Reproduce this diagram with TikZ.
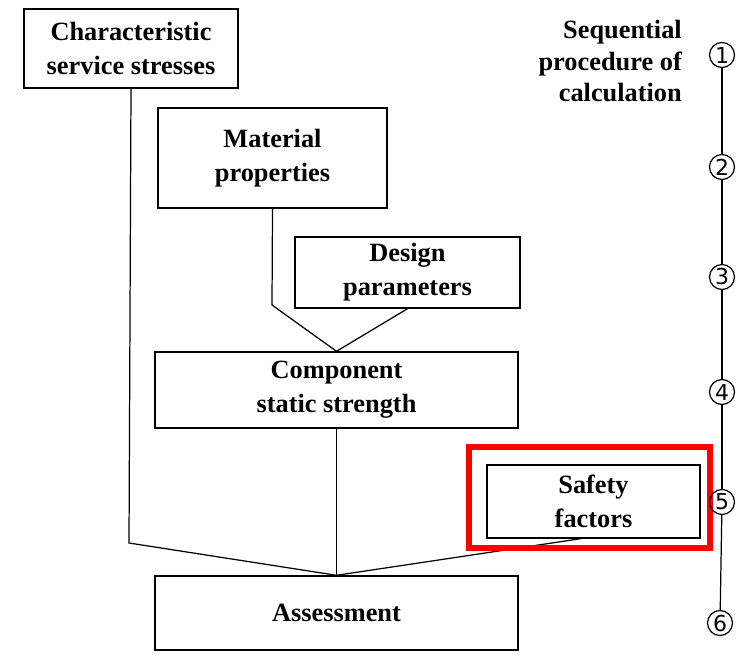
\documentclass[tikz,border=0pt]{standalone}
\usepackage{fontspec}
\setmainfont{Liberation Serif}
\setsansfont{DejaVu Sans}
\usepackage{tikz}
\usetikzlibrary{calc, positioning}

\begin{document}
\begin{tikzpicture}[x=0.02cm, y=-0.02cm,
    box/.style={draw, line width=0.8pt, align=center, inner sep=2pt,
      font=\fontsize{15}{19.5}\selectfont\bfseries},
    link/.style={line width=0.7pt},
    stepno/.style={draw, circle, line width=0.7pt, inner sep=0pt,
      minimum size=0.5cm, font=\sffamily\fontsize{12.5}{12.5}\selectfont}]
  \useasboundingbox (0,0) rectangle (746,655);
  % boxes
  \node[box, minimum width=4.28cm, minimum height=1.58cm] (stress) at (131,48.5)
    {Characteristic\\service stresses};
  \node[box, minimum width=4.58cm, minimum height=2.0cm] (material) at (272.5,158)
    {Material\\properties};
  \node[box, minimum width=4.5cm, minimum height=1.42cm] (design) at (407.5,272.5)
    {Design\\parameters};
  \node[box, minimum width=7.26cm, minimum height=1.52cm] (component) at (336.5,390)
    {Component\\static strength};
  \node[box, minimum width=4.26cm, minimum height=1.46cm] (safety) at (593.5,501.5)
    {Safety\\factors};
  \node[box, minimum width=7.26cm, minimum height=1.48cm] (assess) at (336.5,613)
    {Assessment};
  % bends
  \coordinate (kS) at (129,543);
  \coordinate (kM) at (272,305);
  % connectors
  \draw[link] (stress.south) -- (kS) -- (assess.north);
  \draw[link] (material.south) -- (kM) -- (component.north);
  \draw[link] (design.south) -- (component.north);
  \draw[link] (component.south) -- (assess.north);
  \draw[link] ([xshift=-0.26cm]safety.south) -- (assess.north);
  % highlight
  \draw[red, line width=3.4pt] (469,447) rectangle (710,548);
  % sequence of steps
  \node[anchor=north east, align=right, font=\fontsize{15}{18}\selectfont\bfseries]
    (seq) at (688,14) {Sequential\\procedure of\\calculation};
  \node[stepno] (s1) at (722,55) {1};
  \node[stepno] (s2) at (722,167) {2};
  \node[stepno] (s3) at (722,277) {3};
  \node[stepno] (s4) at (722,392) {4};
  \node[stepno] (s5) at (722,502) {5};
  \node[stepno] (s6) at (720,623) {6};
  \foreach \a/\b in {s1/s2, s2/s3, s3/s4, s4/s5, s5/s6}
    \draw[link] (\a) -- (\b);
\end{tikzpicture}
\end{document}
